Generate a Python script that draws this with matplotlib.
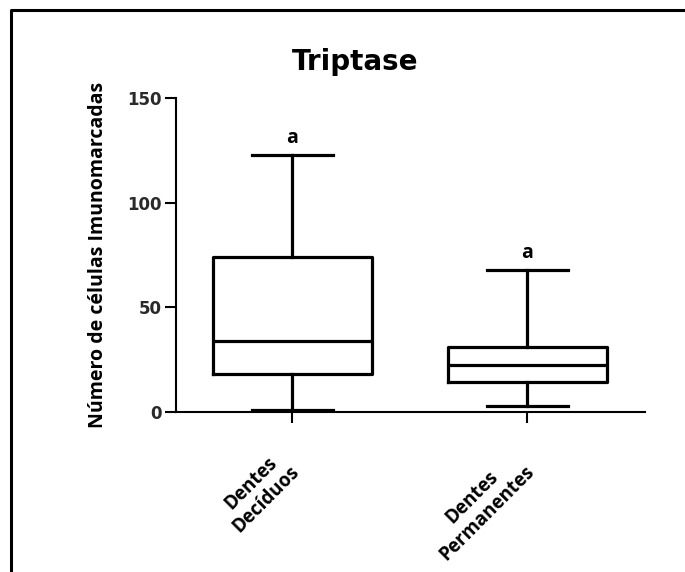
import matplotlib
matplotlib.use("Agg")
import matplotlib.pyplot as plt
import matplotlib.transforms as mtransforms
from matplotlib.lines import Line2D

# ---- data ----
categories = ["Dentes\nDecíduos", "Dentes\nPermanentes"]
whisker_low = [1, 3]
q1 = [18, 14.5]
median = [34, 22.5]
q3 = [74, 31]
whisker_high = [123, 68]
sig_letters = ["a", "a"]
y_ticks = [0, 50, 100, 150]

W, H = 685, 572
fig = plt.figure(figsize=(W / 100, H / 100), dpi=100)
fig.patch.set_facecolor("white")

ax = fig.add_axes([176 / W, 160 / H, (645 - 176) / W, (474 - 160) / H])

stats = []
for i in range(len(categories)):
    stats.append(dict(med=median[i], q1=q1[i], q3=q3[i],
                      whislo=whisker_low[i], whishi=whisker_high[i], fliers=[]))

lw = 2.3
positions = [1, 2]
ax.bxp(stats, positions=positions, widths=0.677, capwidths=0.345,
       showfliers=False, patch_artist=False,
       boxprops=dict(color="black", linewidth=lw),
       medianprops=dict(color="black", linewidth=lw),
       whiskerprops=dict(color="black", linewidth=lw),
       capprops=dict(color="black", linewidth=lw))

ax.set_xlim(0.506, 2.502)
ax.set_ylim(0, 150)

for s in ["top", "right"]:
    ax.spines[s].set_visible(False)
for s in ["left", "bottom"]:
    ax.spines[s].set_linewidth(1.5)
    ax.spines[s].set_color("black")

ax.set_yticks(y_ticks)
ax.set_yticklabels([str(v) for v in y_ticks], fontsize=12, fontweight="bold",
                   family="DejaVu Sans", color="#2a2a2a")
ax.tick_params(axis="y", length=8, width=1.5, pad=2, color="black")

ax.set_xticks(positions)
ax.set_xticklabels(categories, rotation=45, ha="right", va="top",
                   rotation_mode="anchor", fontsize=13.5, fontweight="bold",
                   family="Open Sans", multialignment="center", linespacing=1.12)
ax.tick_params(axis="x", length=8, width=1.5, pad=0, color="black")
offset = mtransforms.ScaledTranslation(-18 / 100, -23 / 100, fig.dpi_scale_trans)
for lab in ax.get_xticklabels():
    lab.set_transform(lab.get_transform() + offset)

# significance letters
for i, p in enumerate(positions):
    ax.annotate(sig_letters[i], xy=(p, whisker_high[i]), xytext=(0, 4.5),
                textcoords="offset points", ha="center", va="bottom",
                fontsize=14, fontweight="bold", family="Open Sans")

ax.set_ylabel("Número de células Imunomarcadas", fontsize=14, fontweight="bold",
              family="Open Sans", labelpad=14)

fig.text(355 / W, 1 - 62 / H, "Triptase", ha="center", va="center",
         fontsize=20, fontweight="bold", family="DejaVu Sans")

# outer frame (left and top only)
fig.add_artist(Line2D([11 / W, 11 / W, 1.0], [0.0, 1 - 10 / H, 1 - 10 / H],
                      transform=fig.transFigure, color="black", linewidth=2.2))

fig.savefig("out.png", dpi=100, facecolor="white")
